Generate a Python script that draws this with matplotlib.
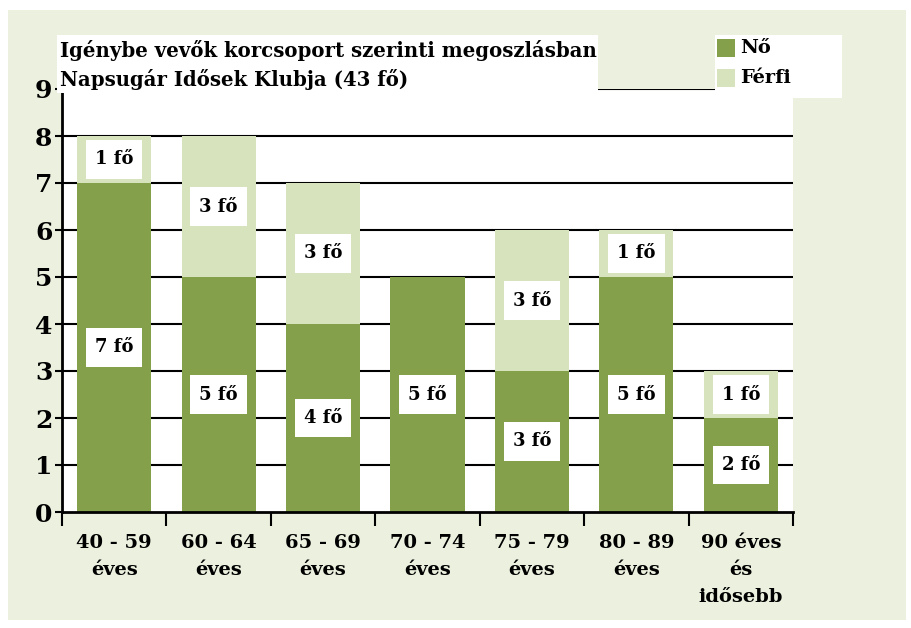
import numpy as np
import matplotlib
matplotlib.use("Agg")
import matplotlib.pyplot as plt
import matplotlib.patches as patches
from matplotlib.path import Path

categories = ["40 - 59\néves", "60 - 64\néves", "65 - 69\néves", "70 - 74\néves",
              "75 - 79\néves", "80 - 89\néves", "90 éves\nés\nidősebb"]
no_values = [7, 5, 4, 5, 3, 5, 2]
ferfi_values = [1, 3, 3, 0, 3, 1, 1]
yticks = list(range(0, 10))
title_lines = ["Igénybe vevők korcsoport szerinti megoszlásban",
               "Napsugár Idősek Klubja (43 fő)"]
legend_names = ["Nő", "Férfi"]

dark = "#85a04b"
light = "#d6e3bc"
bg = "#ebf1de"

plt.rcParams["font.family"] = ["DejaVu Serif"]
plt.rcParams["font.weight"] = "bold"


# white data label box: narrow sides, tall top/bottom
def label_box(x0, y0, width, height, mutation_size):
    px = 0.5 * mutation_size
    py = 0.58 * mutation_size
    verts = [(x0 - px, y0 - py), (x0 + width + px, y0 - py),
             (x0 + width + px, y0 + height + py), (x0 - px, y0 + height + py),
             (x0 - px, y0 - py)]
    return Path(verts, closed=True)


fig = plt.figure(figsize=(9.11, 6.28), dpi=100)
fig.patch.set_facecolor("white")

# green panel
fig.patches.append(patches.Rectangle((8 / 911, 8 / 628), 898 / 911, 610 / 628,
                                     transform=fig.transFigure, facecolor=bg,
                                     edgecolor="none", zorder=-10))

ax = fig.add_axes([62 / 911, 116 / 628, 731 / 911, 423 / 628])
ax.set_facecolor("white")

x = np.arange(len(categories))
w = 0.71
ax.bar(x, no_values, w, color=dark, zorder=2)
ax.bar(x, ferfi_values, w, bottom=no_values, color=light, zorder=2)

for i in x:
    n = no_values[i]
    f = ferfi_values[i]
    if n > 0:
        ax.text(i, n / 2, f"{n} fő", ha="center", va="center", fontsize=13,
                fontweight="bold", zorder=4,
                bbox=dict(boxstyle=label_box, facecolor="white", edgecolor="none"))
    if f > 0:
        ax.text(i, n + f / 2, f"{f} fő", ha="center", va="center", fontsize=13,
                fontweight="bold", zorder=4,
                bbox=dict(boxstyle=label_box, facecolor="white", edgecolor="none"))

ax.set_xlim(-0.5, len(categories) - 0.5)
ax.set_ylim(0, 9)
ax.set_yticks(yticks)
ax.set_yticklabels([str(t) for t in yticks], fontsize=18, fontweight="bold")
for t in yticks[1:]:
    ax.axhline(t, color="black", lw=1.5, zorder=1)

ax.set_xticks(np.arange(-0.5, len(categories)))
ax.set_xticklabels([])
ax.set_xticks(x, minor=True)
ax.set_xticklabels(categories, minor=True, fontsize=14, fontweight="bold",
                   linespacing=1.62)
ax.tick_params(axis="x", which="major", length=10, width=1.5, direction="out")
ax.tick_params(axis="x", which="minor", length=0, pad=16)
ax.tick_params(axis="y", length=5, width=1.5, pad=2)

for s in ["top", "right"]:
    ax.spines[s].set_visible(False)
for s in ["left", "bottom"]:
    ax.spines[s].set_linewidth(2)
    ax.spines[s].set_zorder(5)

# title box
fig.patches.append(patches.Rectangle((57 / 911, (628 - 93) / 628), 541 / 911, 58 / 628,
                                     transform=fig.transFigure, facecolor="white",
                                     edgecolor="none", zorder=3))
fig.text(60 / 911, (628 - 40) / 628, "\n".join(title_lines), ha="left", va="top",
         fontsize=14.2, fontweight="bold", linespacing=1.47, zorder=4)

# legend box
fig.patches.append(patches.Rectangle((715 / 911, (628 - 98) / 628), 127 / 911, 63 / 628,
                                     transform=fig.transFigure, facecolor="white",
                                     edgecolor="none", zorder=3))
for k, (name, col) in enumerate(zip(legend_names, [dark, light])):
    yc = 48 + k * 30
    fig.patches.append(patches.Rectangle((717 / 911, (628 - yc - 9) / 628), 18 / 911, 18 / 628,
                                         transform=fig.transFigure, facecolor=col,
                                         edgecolor="none", zorder=4))
    fig.text(740 / 911, (628 - yc) / 628, name, ha="left", va="center",
             fontsize=14, fontweight="bold", zorder=5)

fig.savefig("out.png", dpi=100)
